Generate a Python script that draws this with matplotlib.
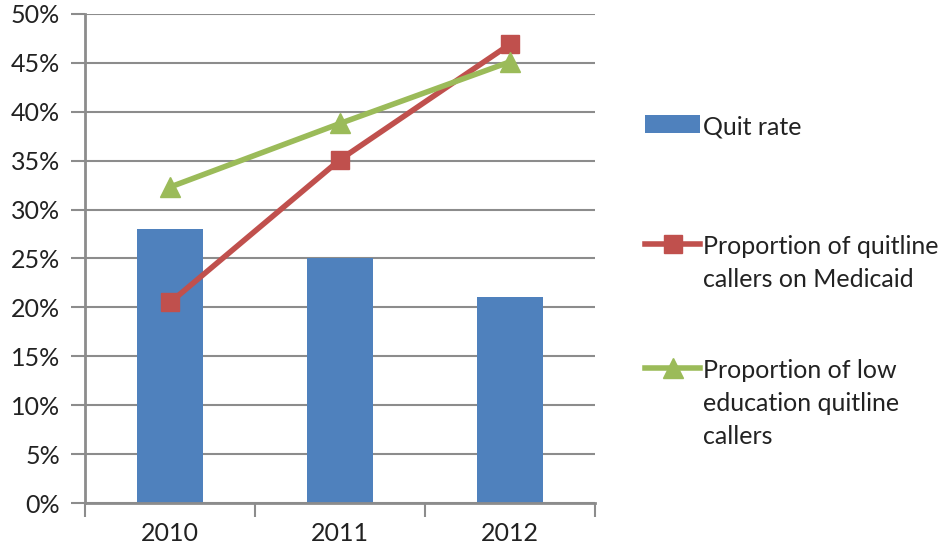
import numpy as np
import matplotlib.pyplot as plt
from matplotlib.ticker import FixedLocator, PercentFormatter

plt.rcParams['font.family'] = ['Lato', 'DejaVu Sans']

years = ['2010', '2011', '2012']
quit_rate = [28.0, 25.0, 21.1]
medicaid = [20.5, 35.1, 46.9]
low_edu = [32.3, 38.8, 45.1]

grey = '#8c8c8c'
x = np.arange(len(years))

fig = plt.figure(figsize=(9.46, 5.54), dpi=100)
ax = fig.add_axes([0.09, 0.092, 0.539, 0.883])

b = ax.bar(x, quit_rate, width=0.39, color='#4F81BD', label='Quit rate', zorder=2)
l1, = ax.plot(x, medicaid, color='#C0504D', lw=4, marker='s', ms=13,
              label='Proportion of quitline\ncallers on Medicaid', zorder=3)
l2, = ax.plot(x, low_edu, color='#9BBB59', lw=4, marker='^', ms=15,
              label='Proportion of low\neducation quitline\ncallers', zorder=3)

ax.set_xlim(-0.5, 2.5)
ax.set_ylim(0, 50)
ax.set_yticks(np.arange(0, 51, 5))
ax.yaxis.set_major_formatter(PercentFormatter(decimals=0))
ax.grid(axis='y', color=grey, lw=1.5, zorder=0)

ax.set_xticks(x)
ax.set_xticklabels(years)
ax.xaxis.set_minor_locator(FixedLocator([-0.5, 0.5, 1.5, 2.5]))
ax.tick_params(axis='x', which='major', length=0, pad=14, labelsize=18, labelcolor='#222222')
ax.tick_params(axis='x', which='minor', length=10, width=1.5, color=grey)
ax.tick_params(axis='y', length=10, width=1.5, color=grey, pad=8, labelsize=18, labelcolor='#222222')

for s in ['top', 'right']:
    ax.spines[s].set_visible(False)
for s in ['left', 'bottom']:
    ax.spines[s].set_color(grey)
    ax.spines[s].set_linewidth(2)

# one legend per entry so the gaps can match the original
for h, ytop in [(b, 0.792), (l1, 0.575), (l2, 0.352)]:
    leg = fig.legend(handles=[h], loc='upper left', bbox_to_anchor=(0.682, ytop),
                     frameon=False, fontsize=18, handlelength=2.2, handletextpad=0.12,
                     handleheight=0.7, borderpad=0, borderaxespad=0)
    for t in leg.get_texts():
        t.set_linespacing(1.52)
        t.set_color('#222222')
    for hp in leg._legend_handle_box.get_children()[0].get_children():
        hp.align = 'top'

fig.savefig('out.png', dpi=100)
